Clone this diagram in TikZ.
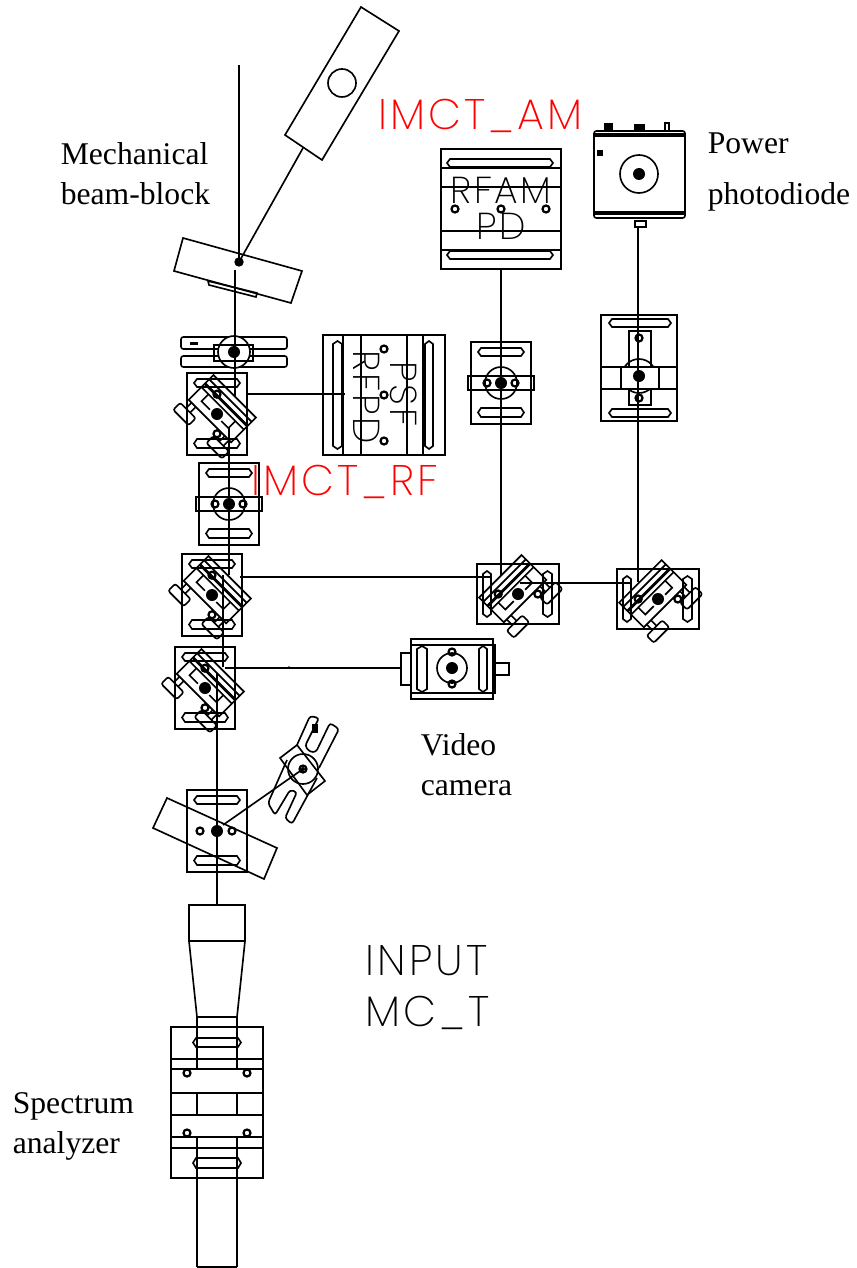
\documentclass[tikz,border=0pt]{standalone}
\usepackage{fontspec}
\setmainfont{Liberation Serif}
\newfontfamily\cadfont[LetterSpace=7]{Poppins ExtraLight}
\newcommand{\hslot}[4]{\draw (#1+3,#3) -- (#2-3,#3) -- (#2,{(#3+#4)/2}) -- (#2-3,#4) -- (#1+3,#4) -- (#1,{(#3+#4)/2}) -- cycle;}
\newcommand{\vslot}[4]{\draw (#1,#3+3) -- (#1,#4-3) -- ({(#1+#2)/2},#4) -- (#2,#4-3) -- (#2,#3+3) -- ({(#1+#2)/2},#3) -- cycle;}
\tikzset{
	labeltext/.style={anchor=base west,inner sep=0pt,font=\fontsize{27}{30}\selectfont},
	cadtext/.style={inner sep=0pt,font=\cadfont\fontsize{36.5}{40}\selectfont},
	redtext/.style={cadtext,anchor=base west,text=red},
	smalltext/.style={inner sep=0pt,font=\cadfont\fontsize{32}{36}\selectfont},
	heavy/.style={line width=2.4pt},
	pics/bolt/.style={code={\draw[line width=1.9pt] (0,0) circle(3.5);}},
	pics/screw/.style={code={\fill (0,0) circle(6);}},
	pics/basebox/.style={code={
		\draw (-30,-41) rectangle (30,41);
		\hslot{-23}{23}{-35}{-27}
		\hslot{-23}{23}{25}{34}
	}},
	pics/lensmount/.style={code={
		\pic {basebox};
		\draw (0,0) circle(16);
		\draw[line width=1.8pt] (-33,-7) rectangle (33,7);
		\foreach \x in {-14,14} \pic at (\x,0) {bolt};
		\pic {screw};
	}},
	pics/mirror/.style={code={
		\draw (-30,-25) rectangle (30,10);
		\draw (-30,-19) -- (30,-19);
		\draw[heavy] (-30,-13) -- (30,-13);
		\draw (-30,-8) -- (30,-8);
		\draw (-20,-8) -- (-20,2) -- (-8,2) (8,2) -- (18,2) -- (18,-8);
		\foreach \x in {-23,24} {
			\draw (\x-3,10) -- (\x-3,18) (\x+3,10) -- (\x+3,18);
			\draw[rounded corners=2] (\x-11,18) rectangle (\x+11,28);
		}
		\foreach \x in {-14,14} \pic at (\x,\x) {bolt};
		\pic {screw};
	}}
}
\begin{document}
\begin{tikzpicture}[x=0.03cm,y=-0.03cm,line width=1.4pt]
	\useasboundingbox (0,0) rectangle (856,1268);
	% beam block
	\draw (361,7) -- (399,31) -- (322,160) -- (285,135) -- cycle;
	\draw (342,83) circle(14);
	\draw (183,238) -- (302,271) -- (291,303) -- (174,271) -- cycle;
	\draw (208,281) -- (257,293) -- (256,297) -- (209,285) -- cycle;
	\coordinate (block) at (239,262);
	\pic at (block) {bolt};
	\fill (block) circle(3);
	\draw (block) -- (303,148);
	% flip mount
	\draw[rounded corners=2] (287,349) -- (287,337) -- (181,337) -- (181,349) -- cycle;
	\draw[rounded corners=2] (287,356) -- (287,367) -- (181,367) -- (181,356) -- cycle;
	\draw[fill=white] (234,352) circle(16);
	\draw[line width=1.8pt] (214,345) rectangle (253,361);
	\pic at (234,352) {screw};
	\fill (190,342) rectangle (198,345);
	% mounts on the beam line
	\pic at (217,414) {basebox};
	\pic[rotate=-45] at (217,414) {mirror};
	\pic at (229,504) {lensmount};
	\pic at (212,595) {basebox};
	\pic[rotate=-45] at (212,595) {mirror};
	\pic at (205,688) {basebox};
	\pic[rotate=-45] at (205,688) {mirror};
	\pic at (501,383) {lensmount};
	\pic[rotate=90] at (518,594) {basebox};
	\pic[rotate=45] at (518,594) {mirror};
	\pic[rotate=90] at (658,599) {basebox};
	\pic[rotate=45] at (658,599) {mirror};
	% RF diode
	\draw (323,335) rectangle (445,455);
	\foreach \x in {343,361,407,423} \draw (\x,335) -- (\x,455);
	\vslot{333}{342}{341}{449}
	\vslot{425}{433}{341}{449}
	\foreach \y in {349,395,441} \pic at (384,\y) {bolt};
	\node[smalltext,rotate=-90] (rfpdtext) at (367,397) {RFPD};
	\node[smalltext,rotate=-90] (psftext) at (404,394) {PSF};
	% AM diode
	\draw (441,149) rectangle (561,269);
	\foreach \y in {187,231} \draw (441,\y) -- (561,\y);
	\foreach \y in {168,250} \draw[heavy] (441,\y) -- (561,\y);
	\hslot{447}{553}{159}{167}
	\hslot{447}{553}{251}{259}
	\foreach \x in {455,501,546} \pic at (\x,209) {bolt};
	\node[smalltext] (rfamtext) at (501,190) {RFAM};
	\node[smalltext] (pdtext) at (501,226) {PD};
	% power diode
	\draw[rounded corners=2] (594,131) rectangle (685,218);
	\foreach \y in {135,213} \draw[line width=3pt] (594,\y) -- (685,\y);
	\draw (639,174) circle(19);
	\pic at (639,174) {screw};
	\fill (604,123) rectangle (613,131);
	\fill (634,124) rectangle (645,131);
	\draw (665,123) rectangle (669,131);
	\fill (597,150) rectangle (603,156);
	\draw[line width=1.8pt] (635,221) rectangle (646,227);
	% mount under the power diode
	\draw (601,315) rectangle (677,421);
	\hslot{609}{671}{319}{327}
	\hslot{609}{671}{409}{417}
	\draw (601,367) -- (677,367) (601,389) -- (677,389);
	\draw (629,331) rectangle (651,405);
	\draw (639,376) circle(17);
	\draw[fill=white,line width=1.8pt] (621,367) rectangle (659,389);
	\foreach \y in {338,398} \pic at (639,\y) {bolt};
	\pic at (639,376) {screw};
	% camera
	\draw (411,639) rectangle (493,699);
	\draw (411,645) rectangle (495,693);
	\draw (401,653) rectangle (411,685);
	\draw (495,663) rectangle (509,675);
	\vslot{417}{427}{646}{692}
	\vslot{479}{487}{646}{692}
	\draw (452,668) circle(15);
	\foreach \y in {652,684} \pic at (452,\y) {bolt};
	\pic at (452,668) {screw};
	% pick off
	\pic at (217,831) {basebox};
	\draw (167,798) -- (277,848) -- (264,879) -- (153,828) -- cycle;
	\foreach \x in {200,232} \pic at (\x,831) {bolt};
	\pic at (217,831) {screw};
	\coordinate (fork) at (303,769);
	\draw (223,825) -- (fork);
	\draw (297,745) -- (325,781) -- (307,795) -- (280,758) -- cycle;
	\draw (fork) circle(15);
	\pic at (fork) {bolt};
	\fill (fork) circle(2);
	\draw[rounded corners=2.5] (297,745) -- (310,716) -- (319,718) -- (305,746) -- (310,752) -- (316,752) -- (330,723) -- (339,729) -- (319,768);
	\draw[rounded corners=2.5] (287,760) -- (268,803) -- (275,815) -- (290,790) -- (297,792) -- (285,818) -- (292,824) -- (317,778);
	\fill (312,724) rectangle (318,733);
	% beams
	\draw (239,65) -- (block);
	\draw (235,270) -- (235,397);
	\draw (229,427) -- (229,575);
	\draw (223,575) -- (223,667);
	\draw (217,673) -- (217,905);
	\draw (247,394) -- (345,394);
	\draw (240,577) -- (490,577);
	\draw (520,583) -- (630,583);
	\draw (501,268) -- (501,575);
	\draw (638,227) -- (638,582);
	\draw (225,668) -- (401,668);
	\fill (289,667) circle(1);
	% spectrum analyzer
	\draw (189,905) rectangle (245,941);
	\draw (189,941) -- (197,1017) -- (237,1017) -- (245,941);
	\draw (171,1027) rectangle (263,1178);
	\foreach \y in {1059,1069,1093,1115,1137,1148} \draw (171,\y) -- (263,\y);
	\foreach \x in {197,237} \draw (\x,1017) -- (\x,1069) (\x,1093) -- (\x,1115) (\x,1137) -- (\x,1267);
	\draw (197,1267) -- (237,1267);
	\hslot{193}{241}{1038}{1047}
	\hslot{193}{241}{1158}{1168}
	\foreach \x in {187,247} \foreach \y in {1073,1133} \pic at (\x,\y) {bolt};
	% labels
	\node[labeltext] (blocktop) at (60,165) {Mechanical};
	\node[labeltext] (blockbot) at (60,205) {beam-block};
	\node[labeltext] (powertop) at (707,154) {Power};
	\node[labeltext] (powerbot) at (707,205) {photodiode};
	\node[labeltext] (videotop) at (420,755) {Video};
	\node[labeltext] (videobot) at (420,795) {camera};
	\node[labeltext] (spectop) at (12,1113) {Spectrum};
	\node[labeltext] (specbot) at (12,1153) {analyzer};
	\node[redtext] (amtitle) at (378,130) {IMCT\_AM};
	\node[redtext] (rftitle) at (251,495) {IMCT\_RF};
	\node[cadtext,anchor=base west] (inputtitle) at (365,975) {INPUT};
	\node[cadtext,anchor=base west] (mctitle) at (365,1026) {MC\_T};
\end{tikzpicture}
\end{document}
